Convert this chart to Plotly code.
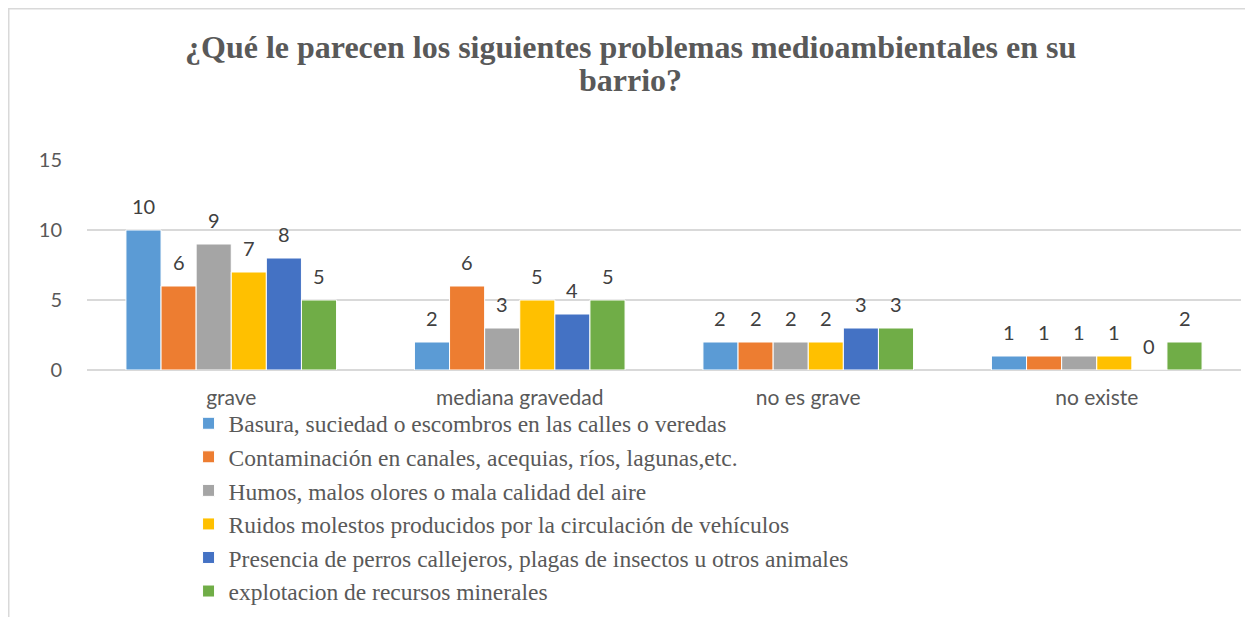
import plotly.graph_objects as go

categories = ["grave", "mediana gravedad", "no es grave", "no existe"]
series_names = [
    "Basura, suciedad o escombros en las calles o veredas",
    "Contaminación en canales, acequias, ríos, lagunas,etc.",
    "Humos, malos olores o mala calidad del aire",
    "Ruidos molestos producidos por la circulación de vehículos",
    "Presencia de perros callejeros, plagas de insectos u otros animales",
    "explotacion de recursos minerales",
]
basura = [10, 2, 2, 1]
contaminacion = [6, 6, 2, 1]
humos = [9, 3, 2, 1]
ruidos = [7, 5, 2, 1]
perros = [8, 4, 3, 0]
mineria = [5, 5, 3, 2]
series_values = [basura, contaminacion, humos, ruidos, perros, mineria]
colors = ["#5B9BD5", "#ED7D31", "#A5A5A5", "#FFC000", "#4472C4", "#70AD47"]
y_ticks = [0, 5, 10, 15]
title_lines = ["¿Qué le parecen los siguientes problemas medioambientales en su", "barrio?"]

W, H = 1253, 617
L, R, T, B = 79, 20, 152, 255
plot_w = W - L - R
plot_h = H - T - B
bargap = 0.27
n = len(series_values)
cat_w = plot_w / len(categories)
bar_w = cat_w * (1 - bargap) / n

fig = go.Figure()
annotations = []
for i, (name, vals, col) in enumerate(zip(series_names, series_values, colors)):
    fig.add_trace(go.Bar(
        x=categories, y=vals, name=name,
        marker=dict(color=col, line=dict(width=1, color="white")),
    ))
    for c, v in zip(categories, vals):
        annotations.append(dict(
            x=c, y=v, xref="x", yref="y", text=str(v), showarrow=False,
            xshift=(i - (n - 1) / 2) * bar_w, yshift=24,
            xanchor="center", yanchor="middle",
            font=dict(family="Lato, sans-serif", size=20, color="#404040"),
        ))

annotations.append(dict(x=0.471, y=1.538, xref="paper", yref="paper", showarrow=False,
                        text="<b>" + title_lines[0] + "</b>", xanchor="center", yanchor="middle",
                        font=dict(family="Liberation Serif, serif", size=32, color="#595959")))
annotations.append(dict(x=0.471, y=1.380, xref="paper", yref="paper", showarrow=False,
                        text="<b>" + title_lines[1] + "</b>", xanchor="center", yanchor="middle",
                        font=dict(family="Liberation Serif, serif", size=32, color="#595959")))

# chart-area border (page starts 8px in from the window edge)
bx0 = (0.75 - L) / plot_w
by1 = (T + plot_h - 0.75) / plot_h

fig.update_layout(
    width=W, height=H,
    margin=dict(l=L, r=R, t=T, b=B),
    paper_bgcolor="white", plot_bgcolor="white",
    barmode="group", bargap=bargap, bargroupgap=0,
    xaxis=dict(showgrid=False, showline=False, ticks="", ticklabelstandoff=13,
               tickfont=dict(family="Lato, sans-serif", size=21, color="#595959")),
    yaxis=dict(range=[0, 15], tickvals=y_ticks, showgrid=True, gridcolor="#D9D9D9",
               gridwidth=1.5, zeroline=True, zerolinecolor="#D9D9D9", zerolinewidth=1.5,
               ticklabelstandoff=24,
               tickfont=dict(family="Lato, sans-serif", size=20, color="#595959")),
    legend=dict(orientation="v", x=0.088, xanchor="left", y=-0.15, yanchor="top",
                font=dict(family="Liberation Serif, serif", size=23.5, color="#595959"),
                tracegroupgap=0, itemwidth=30, bgcolor="rgba(0,0,0,0)"),
    showlegend=True,
    annotations=annotations,
    shapes=[dict(type="rect", xref="paper", yref="paper",
                 x0=bx0, x1=1.05, y0=-2.0, y1=by1,
                 line=dict(color="#D9D9D9", width=1.5), fillcolor="rgba(0,0,0,0)", layer="below")],
)

fig.write_html("out.html")
